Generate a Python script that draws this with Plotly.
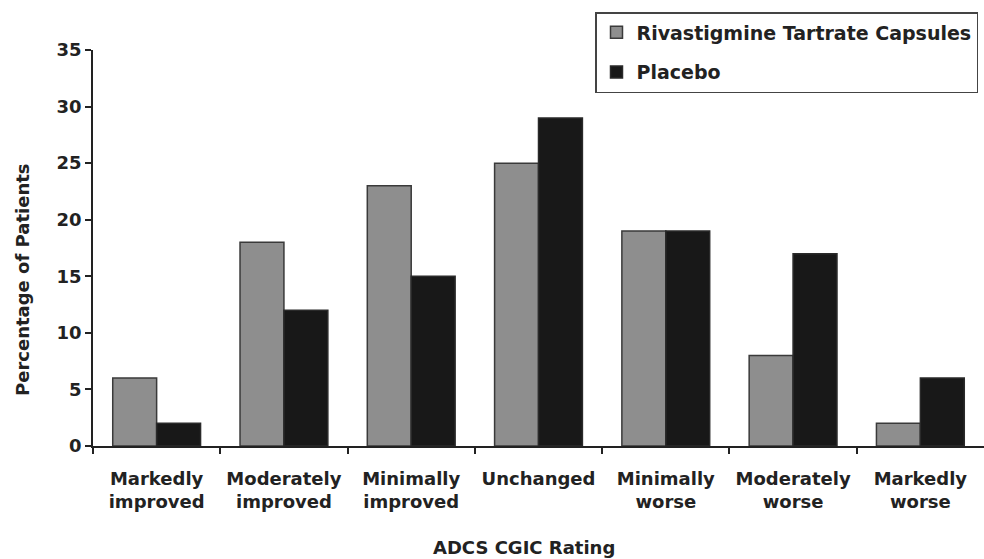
import plotly.graph_objects as go

categories = ["Markedly<br>improved", "Moderately<br>improved", "Minimally<br>improved",
              "Unchanged", "Minimally<br>worse", "Moderately<br>worse", "Markedly<br>worse"]
rivastigmine = [6, 18, 23, 25, 19, 8, 2]
placebo = [2, 12, 15, 29, 19, 17, 6]
y_ticks = [0, 5, 10, 15, 20, 25, 30, 35]

FONT = "DejaVu Sans"
W, H = 984, 559
ML, MR, MT, MB = 93, 0, 50, 113
pw = W - ML - MR
ph = H - MT - MB

def px_x(x):
    return (x - ML) / pw

def px_y(y):
    return (H - MB - y) / ph

fig = go.Figure()
fig.add_trace(go.Bar(
    x=list(range(len(categories))), y=rivastigmine, name="Rivastigmine Tartrate Capsules",
    marker=dict(color="#8e8e8e", line=dict(color="#3a3a3a", width=1.5)),
    legendgroup="a",
))
fig.add_trace(go.Bar(
    x=list(range(len(categories))), y=placebo, name="Placebo",
    marker=dict(color="#181818", line=dict(color="#2a2a2a", width=1.5)),
    legendgroup="b",
))

fig.update_layout(
    width=W, height=H,
    margin=dict(l=ML, r=MR, t=MT, b=MB),
    paper_bgcolor="white", plot_bgcolor="white",
    barmode="group", bargap=0.31, bargroupgap=0,
    font=dict(family=FONT, size=18, color="#222222", weight="bold"),
    showlegend=True,
    legend=dict(
        x=px_x(978), y=px_y(12), xanchor="right", yanchor="top",
        bordercolor="#444444", borderwidth=1.5, bgcolor="white",
        font=dict(family=FONT, size=19, color="#222222", weight="bold"),
        tracegroupgap=12, traceorder="grouped",
    ),
    xaxis=dict(
        range=[-0.5, 6.5], showline=True, linecolor="#222222", linewidth=1.5,
        ticks="outside", ticklen=6, tickcolor="#222222", tickwidth=1.5,
        tickmode="array", tickvals=[i - 0.5 for i in range(7)], ticktext=[""] * 7,
        showgrid=False, zeroline=False,
    ),
    xaxis2=dict(
        overlaying="x", range=[-0.5, 6.5], side="bottom",
        showline=False, showgrid=False, zeroline=False,
        tickmode="array", tickvals=list(range(7)), ticktext=categories,
        ticks="", ticklabelstandoff=20,
        tickfont=dict(family=FONT, size=18, color="#222222", weight="bold"),
    ),
    yaxis=dict(
        range=[0, 35], showline=True, linecolor="#222222", linewidth=1.5,
        ticks="outside", ticklen=6, tickcolor="#222222", tickwidth=1.5,
        tickmode="array", tickvals=y_ticks,
        showgrid=False, zeroline=False,
        tickfont=dict(family=FONT, size=18, color="#222222", weight="bold"),
    ),
    annotations=[
        dict(text="Percentage of Patients", xref="paper", yref="paper",
             x=px_x(22), y=px_y(280), xanchor="center", yanchor="middle",
             textangle=-90, showarrow=False,
             font=dict(family=FONT, size=18, color="#222222", weight="bold")),
        dict(text="ADCS CGIC Rating", xref="paper", yref="paper",
             x=px_x(524), y=px_y(547), xanchor="center", yanchor="middle",
             showarrow=False,
             font=dict(family=FONT, size=18, color="#222222", weight="bold")),
    ],
)

# invisible trace so the category labels axis (xaxis2) is drawn
fig.add_trace(go.Scatter(x=[0], y=[0], xaxis="x2", mode="markers",
                         marker=dict(opacity=0), showlegend=False, hoverinfo="skip"))

fig.write_html(
    "out.html",
    config={"displayModeBar": False},
    post_script="document.body.style.margin='0';document.body.style.overflow='hidden';",
)
